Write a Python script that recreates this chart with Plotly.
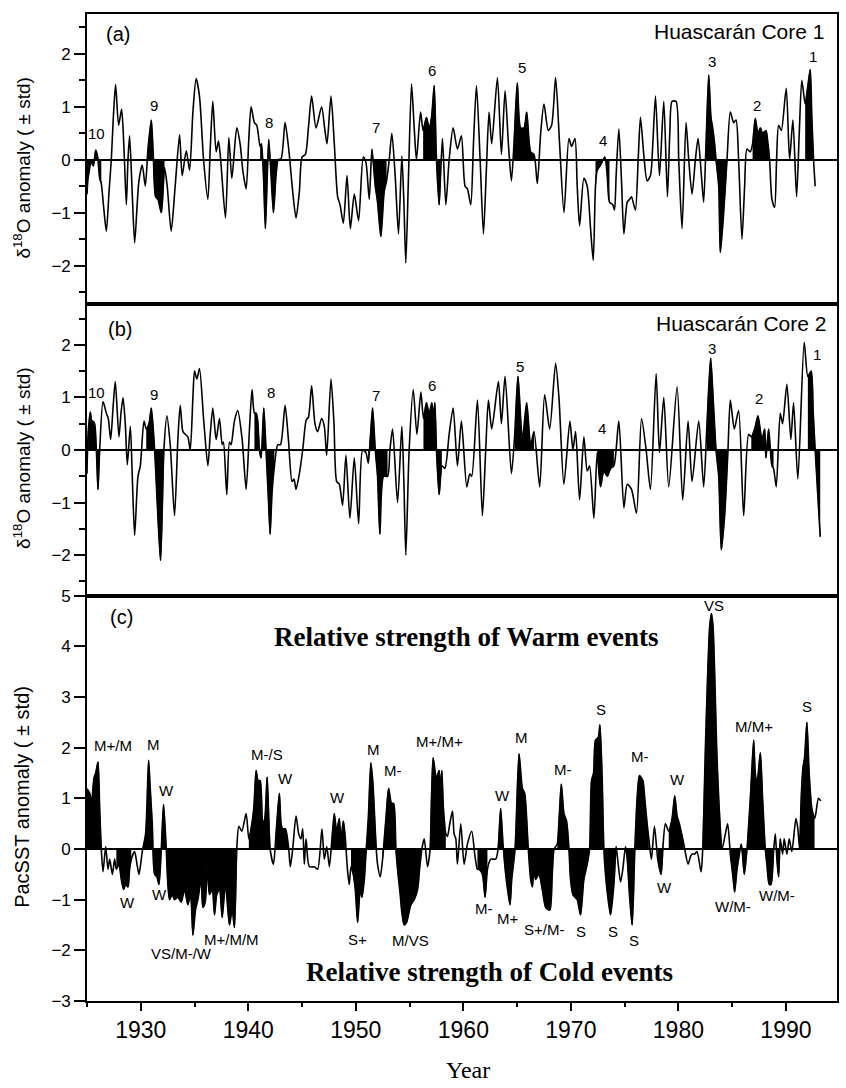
import numpy as np
import plotly.graph_objects as go

# ---------------- data ----------------
# Panel (a): Huascaran Core 1, delta-18O anomaly (std units)
YEAR_A = [1925.00, 1925.10, 1925.41, 1925.59, 1925.81, 1925.99, 1926.18, 1926.33, 1926.55, 1926.80,
          1927.05, 1927.26, 1927.45, 1927.66, 1927.94, 1928.22, 1928.44, 1928.66, 1928.81, 1928.96,
          1929.18, 1929.43, 1929.65, 1929.83, 1930.14, 1930.42, 1930.67, 1930.98, 1931.16, 1931.38,
          1931.60, 1931.91, 1932.21, 1932.46, 1932.83, 1933.20, 1933.61, 1933.85, 1934.23, 1934.54,
          1934.85, 1935.15, 1935.46, 1935.84, 1936.24, 1936.46, 1936.70, 1937.01, 1937.23, 1937.41,
          1937.88, 1938.19, 1938.47, 1938.93, 1939.24, 1939.49, 1939.80, 1940.05, 1940.26, 1940.57,
          1940.79, 1941.10, 1941.22, 1941.41, 1941.59, 1941.75, 1941.90, 1942.12, 1942.34, 1942.58,
          1942.77, 1943.05, 1943.42, 1943.76, 1944.13, 1944.44, 1944.75, 1945.00, 1945.31, 1945.59,
          1945.89, 1946.30, 1946.82, 1947.10, 1947.32, 1947.69, 1948.00, 1948.31, 1948.53, 1948.84,
          1949.18, 1949.49, 1949.86, 1950.26, 1950.69, 1950.94, 1951.25, 1951.50, 1951.81, 1952.02,
          1952.33, 1952.64, 1952.86, 1953.11, 1953.35, 1953.66, 1953.97, 1954.28, 1954.47, 1954.65,
          1954.90, 1955.18, 1955.43, 1955.64, 1956.02, 1956.26, 1956.57, 1956.82, 1957.04, 1957.29,
          1957.50, 1957.75, 1957.90, 1958.06, 1958.37, 1958.68, 1959.05, 1959.45, 1959.82, 1960.16,
          1960.38, 1960.69, 1960.94, 1961.22, 1961.56, 1961.87, 1962.14, 1962.39, 1962.64, 1963.17,
          1963.54, 1963.88, 1964.19, 1964.47, 1964.71, 1965.02, 1965.33, 1965.64, 1965.89, 1966.26,
          1966.57, 1966.88, 1967.19, 1967.50, 1967.90, 1968.21, 1968.58, 1968.95, 1969.36, 1969.82,
          1970.07, 1970.38, 1970.59, 1970.81, 1971.21, 1971.52, 1971.83, 1972.08, 1972.29, 1972.45,
          1972.76, 1973.16, 1973.38, 1973.59, 1973.90, 1974.06, 1974.21, 1974.46, 1974.71, 1974.93,
          1975.24, 1975.45, 1975.64, 1975.85, 1976.01, 1976.26, 1976.47, 1976.78, 1977.09, 1977.40,
          1977.62, 1977.87, 1978.24, 1978.64, 1978.98, 1979.20, 1979.41, 1979.78, 1980.03, 1980.34,
          1980.71, 1980.96, 1981.27, 1981.58, 1981.83, 1982.14, 1982.35, 1982.57, 1982.82, 1983.03,
          1983.19, 1983.37, 1983.50, 1983.75, 1983.90, 1984.21, 1984.52, 1984.83, 1985.14, 1985.36,
          1985.60, 1985.91, 1986.16, 1986.38, 1986.69, 1986.90, 1987.15, 1987.40, 1987.62, 1987.83,
          1988.14, 1988.33, 1988.48, 1988.70, 1988.95, 1989.13, 1989.32, 1989.57, 1990.03, 1990.34,
          1990.65, 1990.99, 1991.24, 1991.48, 1991.79, 1992.04, 1992.26, 1992.41, 1992.57, 1992.72]
D18O_A = [-0.65, -0.35, -0.05, -0.12, 0.18, 0.05, -0.35, -0.45, -0.90, -1.35,
          -0.60, 0.00, 0.80, 1.42, 0.65, 0.95, 0.20, -0.85, 0.00, 0.45,
          -0.50, -1.57, -0.90, -0.40, -0.10, -0.50, 0.20, 0.75, 0.10, -0.70,
          -0.75, -1.00, -0.15, -0.50, -1.35, -0.50, 0.47, -0.30, 0.17, -0.20,
          0.90, 1.53, 1.20, 0.00, -0.75, 0.20, 1.10, 0.15, 0.35, 0.05,
          -1.10, 0.42, -0.35, 0.60, 0.30, -0.20, -0.55, 0.40, 1.00, 0.70,
          0.65, 0.25, 0.30, -0.30, -1.30, -0.40, 0.38, -0.30, -1.00, -0.30,
          0.00, 0.02, 0.70, 0.20, -0.60, -1.10, -0.60, 0.05, 0.10, 0.60,
          1.20, 0.60, 1.00, 0.60, 0.30, 1.20, 0.30, -0.70, -0.85, -1.20,
          -0.30, -1.30, -0.65, -1.15, 0.05, -0.05, -0.75, 0.20, -0.50, -0.80,
          -1.45, -0.60, -0.40, 0.00, 0.50, -0.30, -1.40, 0.07, -0.80, -1.95,
          -0.30, 1.43, 0.60, 0.00, 0.90, 0.55, 0.80, 0.60, 0.80, 1.40,
          0.00, -0.85, -0.20, 0.40, -0.85, 0.00, 0.60, 0.20, 0.45, -0.50,
          -0.55, -0.85, 0.30, 1.40, 0.00, -1.40, -0.20, 0.90, 0.30, 1.55,
          0.10, 1.30, 0.30, -0.40, 0.30, 1.45, 0.60, 0.60, 0.90, 0.15,
          0.10, -0.45, 0.50, 1.05, 0.55, 0.65, 1.55, 0.30, -1.00, 0.40,
          0.25, 0.40, -0.50, -1.25, -0.35, -0.50, -1.30, -1.90, -0.50, -0.20,
          -0.10, 0.05, -0.30, -0.80, -0.85, -0.95, -0.30, 0.58, -0.40, -1.40,
          -0.80, -0.75, -0.70, -0.85, -0.95, 0.00, 0.80, 0.10, -0.40, -0.30,
          0.30, 1.20, -0.30, 1.10, -0.70, 0.50, 1.10, 1.10, 0.00, -1.30,
          0.70, 0.00, -0.65, 0.00, 0.40, -0.30, -0.80, 0.30, 1.60, 0.80,
          0.60, 0.30, 0.00, -0.50, -1.75, -1.00, 0.00, 0.90, 0.70, 0.75,
          0.00, -1.50, -0.50, 0.20, 0.15, 0.30, 0.78, 0.50, 0.60, 0.50,
          0.55, 0.30, 0.00, -0.75, -0.90, 0.00, 0.65, 0.55, 1.35, 0.00,
          0.75, -0.70, 0.50, 1.50, 1.05, 1.40, 1.70, 0.80, 0.00, -0.50]
# year windows shaded black (El Nino events 10 ... 1)
EVENTS_A = [(1925.00, 1926.35), (1930.60, 1932.25), (1941.05, 1942.80), (1951.45, 1952.90),
            (1956.20, 1957.95), (1964.65, 1966.60), (1972.25, 1973.65), (1982.50, 1984.55),
            (1986.85, 1988.50), (1991.70, 1992.60)]
EVENT_NUM_A = ["10", "9", "8", "7", "6", "5", "4", "3", "2", "1"]
EVENT_NUM_A_X = [1925.9, 1931.2, 1941.9, 1951.9, 1957.1, 1965.45, 1973.0, 1983.1, 1987.35, 1992.5]
EVENT_NUM_A_Y = [0.49, 1.03, 0.71, 0.60, 1.68, 1.74, 0.36, 1.85, 1.03, 1.94]

# Panel (b): Huascaran Core 2
YEAR_B = [1925.00, 1925.10, 1925.31, 1925.44, 1925.56, 1925.71, 1925.87, 1926.02, 1926.18, 1926.49,
          1926.80, 1926.98, 1927.20, 1927.42, 1927.63, 1927.97, 1928.16, 1928.35, 1928.56, 1928.75,
          1929.03, 1929.21, 1929.43, 1929.74, 1929.96, 1930.30, 1930.51, 1930.76, 1930.98, 1931.29,
          1931.53, 1931.84, 1932.15, 1932.43, 1932.74, 1933.14, 1933.45, 1933.67, 1933.92, 1934.13,
          1934.38, 1934.60, 1934.85, 1935.00, 1935.22, 1935.46, 1935.84, 1936.24, 1936.46, 1936.70,
          1937.01, 1937.32, 1937.57, 1937.69, 1938.00, 1938.25, 1938.40, 1938.71, 1939.02, 1939.43,
          1939.80, 1940.11, 1940.35, 1940.57, 1940.73, 1940.88, 1941.04, 1941.19, 1941.44, 1941.65,
          1941.84, 1942.03, 1942.21, 1942.43, 1942.74, 1942.99, 1943.42, 1943.73, 1944.07, 1944.25,
          1944.44, 1944.75, 1945.06, 1945.40, 1945.59, 1945.89, 1946.20, 1946.45, 1946.82, 1947.07,
          1947.29, 1947.69, 1947.97, 1948.22, 1948.46, 1948.77, 1949.08, 1949.45, 1949.86, 1950.26,
          1950.63, 1950.94, 1951.16, 1951.37, 1951.56, 1951.81, 1952.02, 1952.24, 1952.58, 1952.95,
          1953.17, 1953.42, 1953.88, 1954.28, 1954.47, 1954.65, 1954.96, 1955.34, 1955.68, 1956.05,
          1956.29, 1956.57, 1956.82, 1957.07, 1957.19, 1957.35, 1957.50, 1957.75, 1958.00, 1958.28,
          1958.68, 1959.05, 1959.45, 1959.82, 1960.32, 1960.60, 1960.78, 1961.31, 1961.77, 1962.08,
          1962.33, 1962.64, 1963.26, 1963.54, 1963.88, 1964.47, 1964.78, 1965.08, 1965.49, 1965.89,
          1966.26, 1966.57, 1967.10, 1967.56, 1968.03, 1968.58, 1968.89, 1969.35, 1969.91, 1970.19,
          1970.44, 1970.81, 1971.21, 1971.52, 1971.74, 1972.14, 1972.45, 1972.76, 1973.07, 1973.38,
          1973.69, 1974.00, 1974.46, 1974.93, 1975.24, 1975.64, 1976.10, 1976.57, 1977.00, 1977.40,
          1977.93, 1978.24, 1978.64, 1979.10, 1979.88, 1980.40, 1980.90, 1981.27, 1981.89, 1982.35,
          1982.66, 1983.00, 1983.28, 1983.50, 1983.75, 1983.99, 1984.30, 1984.61, 1984.83, 1985.20,
          1985.60, 1986.07, 1986.53, 1986.78, 1987.09, 1987.40, 1987.77, 1988.02, 1988.14, 1988.39,
          1988.70, 1988.85, 1989.10, 1989.47, 1989.69, 1990.09, 1990.46, 1990.71, 1991.11, 1991.70,
          1992.04, 1992.35, 1992.54, 1992.72, 1993.19]
D18O_B = [-0.45, 0.30, 0.72, 0.55, 0.55, 0.50, 0.00, -0.75, 0.00, 0.92,
          0.70, 0.60, 0.20, 0.80, 1.30, 0.25, 0.70, 1.00, 0.50, -0.28,
          0.45, -0.50, -1.62, -0.50, -0.30, 0.55, 0.40, 0.50, 0.80, 0.00,
          -1.00, -2.10, 0.00, 0.65, 0.10, -1.25, 0.20, 0.85, 0.35, 0.30,
          0.25, 0.00, 1.00, 1.50, 1.35, 1.55, 0.60, -0.30, 0.30, 0.80,
          0.20, 0.60, 0.10, 0.15, -0.85, 0.15, 0.10, 0.55, 0.75, 0.20,
          -0.75, 0.40, 1.15, 0.70, 0.70, 0.55, 0.00, -0.15, 0.80, 0.00,
          -0.80, -1.60, -0.80, -0.30, 0.10, 0.10, 0.85, 0.20, -0.60, -0.55,
          -0.75, -0.45, 0.00, 0.58, 0.62, 1.22, 0.50, 0.35, 0.60, 0.45,
          -0.10, 1.35, 0.50, -0.60, -0.65, -1.05, -0.10, -1.30, -0.15, -1.40,
          0.00, -0.05, -0.25, 0.30, 0.80, 0.00, -0.50, -1.60, -0.50, -0.50,
          0.00, 0.40, -1.00, 0.45, -0.60, -2.00, 0.00, 1.15, 0.30, 1.10,
          0.60, 0.90, 0.70, 0.90, 0.60, 0.90, 0.00, -0.85, -0.30, -0.35,
          0.30, 0.80, -0.30, 0.55, -0.70, -0.45, -0.50, 0.95, -1.25, 0.00,
          0.95, 0.40, 1.30, 0.50, 1.40, -0.45, 0.30, 1.40, 0.20, 0.90,
          0.10, 0.35, -0.70, 1.05, 0.40, 1.65, 1.00, -0.65, 0.55, 0.00,
          0.35, -0.95, 0.25, -0.40, -0.30, -1.30, -0.05, -0.70, -0.40, -0.50,
          -0.35, -0.30, 0.55, -1.10, -0.65, -0.75, -1.20, 0.60, 0.00, -0.75,
          1.45, -0.05, 1.00, -0.70, 1.20, -0.95, 0.55, -0.60, 0.55, -0.70,
          0.50, 1.75, 0.80, 0.00, -0.50, -1.90, -1.25, 0.00, 0.95, 0.40,
          0.75, -1.25, 0.30, 0.25, 0.40, 0.65, 0.20, 0.40, -0.15, 0.40,
          -0.30, -0.35, -0.70, 0.70, 0.50, 1.25, 0.20, 0.90, -0.55, 2.05,
          1.40, 1.50, 0.70, 0.00, -1.65]
EVENTS_B = [(1925.05, 1926.20), (1930.45, 1932.20), (1940.50, 1942.50), (1951.10, 1953.00),
            (1956.25, 1958.05), (1964.75, 1966.60), (1972.40, 1974.05), (1982.60, 1984.65),
            (1986.75, 1988.90), (1992.00, 1993.20)]
EVENT_NUM_B = ["10", "9", "8", "7", "6", "5", "4", "3", "2", "1"]
EVENT_NUM_B_X = [1925.9, 1931.2, 1942.1, 1951.9, 1957.1, 1965.3, 1972.9, 1983.1, 1987.5, 1992.85]
EVENT_NUM_B_Y = [1.09, 1.06, 1.09, 1.04, 1.23, 1.58, 0.41, 1.94, 0.98, 1.81]

# Panel (c): Pacific SST anomaly (std units)
YEAR_C = [1925.00, 1925.25, 1925.41, 1925.65, 1925.81, 1926.02, 1926.18, 1926.33, 1926.49, 1926.74,
          1926.95, 1927.11, 1927.36, 1927.57, 1927.73, 1927.97, 1928.19, 1928.41, 1928.59, 1928.81,
          1928.96, 1929.12, 1929.43, 1929.65, 1929.83, 1929.99, 1930.14, 1930.45, 1930.73, 1930.88,
          1931.07, 1931.29, 1931.50, 1931.69, 1931.91, 1932.12, 1932.37, 1932.52, 1932.68, 1932.93,
          1933.14, 1933.45, 1933.76, 1934.07, 1934.38, 1934.63, 1934.85, 1935.09, 1935.31, 1935.62,
          1935.77, 1935.99, 1936.18, 1936.39, 1936.64, 1936.86, 1937.07, 1937.32, 1937.57, 1937.88,
          1938.25, 1938.50, 1938.71, 1938.93, 1939.12, 1939.40, 1939.80, 1940.05, 1940.26, 1940.51,
          1940.73, 1940.91, 1941.10, 1941.34, 1941.53, 1941.75, 1942.03, 1942.34, 1942.58, 1942.89,
          1943.05, 1943.20, 1943.45, 1943.76, 1943.91, 1944.13, 1944.44, 1944.69, 1944.90, 1945.06,
          1945.21, 1945.37, 1945.68, 1946.14, 1946.45, 1946.85, 1947.07, 1947.30, 1947.54, 1947.78,
          1948.00, 1948.22, 1948.46, 1948.62, 1948.84, 1948.99, 1949.24, 1949.39, 1949.55, 1949.76,
          1949.95, 1950.17, 1950.41, 1950.57, 1950.79, 1950.94, 1951.16, 1951.40, 1951.59, 1951.78,
          1951.90, 1952.02, 1952.27, 1952.49, 1952.80, 1953.05, 1953.32, 1953.51, 1953.73, 1953.88,
          1954.13, 1954.28, 1954.50, 1954.72, 1955.12, 1955.43, 1955.74, 1955.95, 1956.14, 1956.36,
          1956.67, 1956.91, 1957.19, 1957.50, 1957.75, 1957.90, 1958.00, 1958.15, 1958.37, 1958.52,
          1958.74, 1958.99, 1959.14, 1959.30, 1959.45, 1959.76, 1960.07, 1960.38, 1960.78, 1961.06,
          1961.31, 1961.46, 1961.77, 1962.02, 1962.24, 1962.55, 1963.01, 1963.23, 1963.47, 1963.69,
          1963.94, 1964.34, 1964.50, 1964.81, 1965.18, 1965.49, 1965.70, 1966.04, 1966.26, 1966.42,
          1966.57, 1966.72, 1967.03, 1967.34, 1967.65, 1967.90, 1968.06, 1968.27, 1968.43, 1968.74,
          1969.11, 1969.36, 1969.60, 1969.82, 1969.97, 1970.19, 1970.38, 1970.59, 1970.90, 1971.21,
          1971.52, 1971.74, 1971.92, 1972.11, 1972.29, 1972.54, 1972.70, 1972.91, 1973.07, 1973.22,
          1973.47, 1973.69, 1974.00, 1974.21, 1974.40, 1974.62, 1974.83, 1975.08, 1975.24, 1975.45,
          1975.70, 1975.95, 1976.16, 1976.38, 1976.69, 1976.87, 1977.09, 1977.25, 1977.49, 1977.77,
          1978.08, 1978.39, 1978.58, 1978.79, 1979.10, 1979.41, 1979.66, 1979.88, 1980.09, 1980.50,
          1980.90, 1981.12, 1981.27, 1981.52, 1981.73, 1982.11, 1982.26, 1982.51, 1982.73, 1982.91,
          1983.07, 1983.22, 1983.37, 1983.56, 1983.75, 1984.06, 1984.37, 1984.58, 1984.83, 1985.05,
          1985.23, 1985.45, 1985.67, 1985.85, 1986.13, 1986.38, 1986.69, 1987.00, 1987.15, 1987.31,
          1987.62, 1987.83, 1988.08, 1988.23, 1988.45, 1988.61, 1988.85, 1989.01, 1989.16, 1989.32,
          1989.47, 1989.69, 1989.84, 1990.09, 1990.31, 1990.55, 1990.93, 1991.11, 1991.27, 1991.42,
          1991.58, 1991.73, 1991.95, 1992.16, 1992.41, 1992.66, 1992.78, 1993.03, 1993.25]
PACSST_C = [1.19, 1.10, 0.90, 1.40, 1.50, 1.72, 0.80, 0.00, -0.45, 0.05,
            -0.40, -0.20, -0.50, -0.20, -0.40, -0.30, -0.60, -0.80, -0.70, -0.75,
            -0.40, -0.20, -0.05, -0.30, -0.50, -0.30, -0.05, 0.30, 1.75, 1.20,
            0.50, -0.50, -0.55, -0.70, 0.00, 0.88, 0.00, -0.70, -1.00, -0.90,
            -1.00, -0.95, -1.05, -0.80, -1.10, -0.90, -1.70, -1.20, -1.00, -0.60,
            -1.15, -1.05, -0.30, -0.90, -0.80, -1.30, -0.90, -0.80, -1.35, -0.70,
            -1.50, -1.20, -1.55, 0.00, 0.45, 0.35, 0.70, 0.20, 0.40, 0.80,
            1.55, 1.35, 1.35, 0.50, 0.60, 1.42, 0.00, -0.30, 0.30, 1.10,
            0.50, 0.40, 0.40, 0.00, -0.35, 0.00, 0.65, 0.30, 0.20, 0.40,
            -0.30, 0.20, -0.35, -0.35, -0.40, 0.40, -0.20, 0.05, -0.35, 0.20,
            0.70, 0.35, 0.60, 0.20, 0.55, 0.30, -0.45, -0.70, -0.35, -0.50,
            -0.80, -1.45, -0.80, -0.95, -0.60, -0.10, 0.60, 1.70, 1.30, 0.50,
            0.00, -0.30, -0.55, -0.20, 0.60, 1.20, 0.90, 0.90, 0.00, -0.40,
            -0.90, -1.25, -1.50, -1.45, -1.10, -1.00, -0.80, -0.35, 0.00, 0.20,
            -0.35, 0.00, 1.80, 1.40, 1.55, 1.10, 1.55, 0.80, 0.30, 0.25,
            0.50, 0.75, 0.30, 0.20, -0.30, 0.50, -0.30, 0.10, 0.35, -0.10,
            -0.40, -0.40, -0.50, -0.95, -0.40, -0.20, -0.20, 0.00, 0.80, 0.10,
            -0.50, -1.10, -0.60, 0.00, 1.88, 1.20, 1.10, 0.00, -0.60, -0.75,
            -0.40, -0.60, -0.50, -0.80, -1.15, -1.20, -1.20, -0.50, 0.00, 0.10,
            1.28, 0.70, 0.55, 0.00, -0.60, -0.90, -0.95, -1.00, -1.30, -0.60,
            -0.30, 0.00, 1.35, 1.50, 2.15, 2.20, 2.45, 1.40, 0.00, -0.50,
            -1.00, -1.30, -0.70, 0.05, -0.30, -0.65, -0.40, 0.05, -0.20, -0.90,
            -1.50, 0.00, 1.00, 1.45, 1.35, 1.00, 0.50, 0.20, -0.20, 0.45,
            -0.20, -0.50, 0.10, 0.50, 0.35, 0.60, 1.05, 0.65, 0.50, 0.10,
            -0.30, -0.15, -0.10, -0.10, -0.05, -0.45, 0.00, 2.00, 3.50, 4.40,
            4.65, 4.40, 3.50, 2.00, 1.00, 0.00, 0.30, 0.50, -0.10, -0.50,
            -0.85, -0.40, -0.10, 0.10, -0.50, 0.00, 1.00, 2.15, 1.50, 1.30,
            1.90, 1.00, 0.00, -0.30, -0.70, -0.70, -0.05, 0.30, -0.20, -0.55,
            0.20, -0.10, 0.20, -0.10, 0.20, -0.05, 0.60, 0.40, 0.00, 1.00,
            1.60, 1.80, 2.50, 1.50, 0.80, 0.60, 0.70, 1.00, 0.95]
EVENTS_C = [(1925.00, 1926.35), (1927.70, 1929.15), (1930.10, 1938.95), (1940.00, 1942.05),
            (1942.55, 1943.80), (1947.75, 1949.00), (1949.50, 1951.95), (1952.45, 1956.20),
            (1956.90, 1958.40), (1961.30, 1962.30), (1963.20, 1968.45), (1968.70, 1974.25),
            (1975.05, 1977.30), (1978.05, 1978.60), (1979.05, 1980.55), (1982.25, 1984.10),
            (1984.80, 1988.90), (1989.15, 1989.50), (1991.25, 1992.70)]
STRENGTH = ["M+/M", "M", "W", "W", "W", "VS/M-/W", "M+/M/M", "M-/S", "W",
            "W", "M", "M-", "M+/M+", "S+", "M/VS", "M-", "M+", "W", "M", "S+/M-",
            "M-", "S", "S", "S", "S", "M-", "W", "W", "VS", "W/M-", "M/M+", "W/M-", "S"]
STRENGTH_X = [1927.4, 1931.2, 1932.4, 1928.8, 1931.75, 1933.8, 1938.4, 1941.75, 1943.5,
              1948.25, 1951.6, 1953.5, 1957.75, 1950.2, 1955.1, 1961.9, 1964.1, 1963.6, 1965.4, 1967.5,
              1969.25, 1970.9, 1972.76, 1973.93, 1975.85, 1976.4, 1978.73, 1979.9, 1983.3, 1985.1,
              1987.0, 1989.2, 1991.95]
STRENGTH_Y = [2.04, 2.06, 1.16, -1.05, -0.89, -2.06, -1.79, 1.875, 1.39,
              1.01, 1.96, 1.55, 2.12, -1.79, -1.80, -1.18, -1.37, 1.05, 2.20, -1.58,
              1.56, -1.62, 2.75, -1.62, -1.80, 1.83, -0.75, 1.37, 4.80, -1.14,
              2.42, -0.92, 2.81]

YEAR_TICKS = [1930, 1940, 1950, 1960, 1970, 1980, 1990]

# ---------------- figure ----------------
SANS = "Liberation Sans, Arial, sans-serif"
SERIF = "Liberation Serif, Times New Roman, serif"
LINE_W = 1.6

fig = go.Figure()

panels = [
    (YEAR_A, D18O_A, EVENTS_A, "x", "y"),
    (YEAR_B, D18O_B, EVENTS_B, "x2", "y2"),
    (YEAR_C, PACSST_C, EVENTS_C, "x3", "y3"),
]
line_shape = dict(shape="spline", smoothing=0.7)
for years, vals, events, xa, ya in panels:
    xs = np.asarray(years)
    ys = np.asarray(vals)
    for start, end in events:
        m = (xs >= start) & (xs <= end)
        fig.add_trace(go.Scatter(
            x=xs[m], y=ys[m], mode="lines", fill="tozeroy", fillcolor="black",
            line=dict(color="black", width=0.6, **line_shape),
            xaxis=xa, yaxis=ya, hoverinfo="skip", showlegend=False))
    fig.add_trace(go.Scatter(
        x=xs, y=ys, mode="lines", line=dict(color="black", width=LINE_W, **line_shape),
        xaxis=xa, yaxis=ya, showlegend=False))

# plot area in pixels: left 87, right 837, top 5, bottom 1001
W, H = 846, 1088
ML, MR, MT, MB = 87, 9, 5, 87
PW, PH = W - ML - MR, H - MT - MB


def px(xp):
    return (xp - ML) / PW


def py(yp):
    return (H - MB - yp) / PH


frame = dict(showline=True, mirror=True, linecolor="black", linewidth=1.6,
             showgrid=False)
xcommon = dict(range=[1925.0, 1994.75], zeroline=False, **frame)

fig.update_layout(
    width=W, height=H,
    margin=dict(l=ML, r=MR, t=MT, b=MB),
    paper_bgcolor="white", plot_bgcolor="white",
    xaxis=dict(domain=[0, 1], anchor="y", showticklabels=False, ticks="", **xcommon),
    xaxis2=dict(domain=[0, 1], anchor="y2", matches="x", showticklabels=False, ticks="", **xcommon),
    xaxis3=dict(domain=[0, 1], anchor="y3", matches="x", tickmode="array", tickvals=YEAR_TICKS,
                ticks="outside", ticklen=8, tickwidth=1.5, tickcolor="black",
                minor=dict(tick0=1925, dtick=5, ticks="outside", ticklen=4, tickwidth=1.5,
                           tickcolor="black"),
                tickfont=dict(family=SANS, size=23, color="black"), **xcommon),
)

ycommon = dict(ticks="outside", tickwidth=1.5, tickcolor="black", ticklen=11,
               tickmode="linear", tick0=0, dtick=1,
               zeroline=True, zerolinecolor="black", zerolinewidth=1.5,
               tickfont=dict(family=SANS, size=17, color="black"), **frame)
minor_half = dict(tick0=0, dtick=0.5, ticks="outside", ticklen=6, tickwidth=1.5, tickcolor="black")
fig.update_layout(
    yaxis=dict(domain=[py(298), 1.0], anchor="x", range=[-2.73, 2.75], minor=minor_half, **ycommon),
    yaxis2=dict(domain=[py(592), py(298)], anchor="x2", range=[-2.77, 2.77], minor=minor_half, **ycommon),
    yaxis3=dict(domain=[0.0, py(592)], anchor="x3", range=[-3, 5], **ycommon),
)


def label(text, x, y, xref, yref, size, family=SANS, xanchor="center", angle=0):
    return dict(text=text, x=x, y=y, xref=xref, yref=yref, showarrow=False,
                xanchor=xanchor, yanchor="middle", textangle=angle,
                font=dict(family=family, size=size, color="black"))


ann = []
# event numbers for the two ice cores
for nums, xs_, ys_, xr, yr in [(EVENT_NUM_A, EVENT_NUM_A_X, EVENT_NUM_A_Y, "x", "y"),
                               (EVENT_NUM_B, EVENT_NUM_B_X, EVENT_NUM_B_Y, "x2", "y2")]:
    for t, xv, yv in zip(nums, xs_, ys_):
        ann.append(label(t, xv, yv, xr, yr, 15))
# warm / cold event strength
for t, xv, yv in zip(STRENGTH, STRENGTH_X, STRENGTH_Y):
    ann.append(label(t, xv, yv, "x3", "y3", 15))

ann += [
    label("<b>Relative strength of Warm events</b>", 1960.26, 4.18, "x3", "y3", 27, SERIF),
    label("<b>Relative strength of Cold events</b>", 1962.4, -2.42, "x3", "y3", 27, SERIF),
    label("(a)", px(118), py(25), "paper", "paper", 20),
    label("(b)", px(120), py(323), "paper", "paper", 20),
    label("(c)", px(121), py(613), "paper", "paper", 20),
    label("Huascarán Core 1", px(826), py(23), "paper", "paper", 21, xanchor="right"),
    label("Huascarán Core 2", px(828), py(317), "paper", "paper", 21, xanchor="right"),
    label("δ<sup>18</sup>O anomaly ( ± std)", px(22), py(160), "paper", "paper", 19, angle=-90),
    label("δ<sup>18</sup>O anomaly ( ± std)", px(22), py(453), "paper", "paper", 19, angle=-90),
    label("PacSST anomaly ( ± std)", px(22), py(795), "paper", "paper", 20, angle=-90),
    label("Year", px(468), py(1071), "paper", "paper", 24, SERIF),
]
fig.update_layout(annotations=ann)

fig.write_html("out.html")
